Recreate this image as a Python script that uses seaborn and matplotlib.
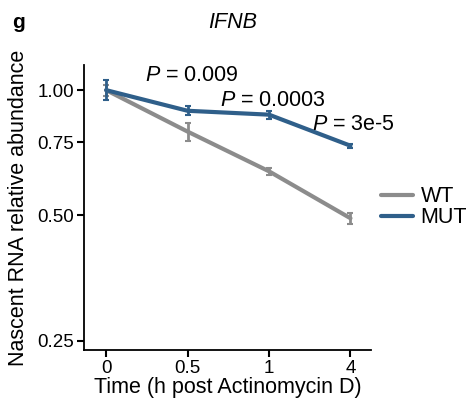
import matplotlib
matplotlib.use("Agg")
import matplotlib.pyplot as plt
import seaborn as sns
import pandas as pd
import numpy as np
from matplotlib.lines import Line2D

times = ["0", "0.5", "1", "4"]
wt_mean = [1.00, 0.795, 0.638, 0.492]
wt_err = [0.03, 0.04, 0.012, 0.015]
mut_mean = [1.00, 0.892, 0.873, 0.735]
mut_err = [0.055, 0.022, 0.02, 0.008]
groups = ["WT", "MUT"]
colors = {"WT": "#8c8c8c", "MUT": "#2f5f8a"}
pvals = ["0.009", "0.0003", "3e-5"]
yticks = [0.25, 0.50, 0.75, 1.00]

sns.set_style("ticks")
plt.rcParams["font.family"] = ["Liberation Sans", "DejaVu Sans"]
plt.rcParams["mathtext.fontset"] = "custom"
plt.rcParams["mathtext.it"] = "Liberation Sans:italic"
plt.rcParams["mathtext.rm"] = "Liberation Sans"
for k in ["text.color", "axes.labelcolor", "xtick.color", "ytick.color",
          "xtick.labelcolor", "ytick.labelcolor"]:
    plt.rcParams[k] = "black"

rows = []
for g, m, e in [("WT", wt_mean, wt_err), ("MUT", mut_mean, mut_err)]:
    for i, t in enumerate(times):
        rows.append({"pos": i, "time": t, "value": m[i], "err": e[i], "group": g})
df = pd.DataFrame(rows)

fig = plt.figure(figsize=(4.7, 4.03), dpi=100)
ax = fig.add_axes([0.179, 0.131, 0.61, 0.708])

sns.lineplot(data=df, x="pos", y="value", hue="group", palette=colors,
             hue_order=groups, linewidth=3, ax=ax, legend=False)
for g in groups:
    sub = df[df.group == g]
    ax.errorbar(sub["pos"], sub["value"], yerr=sub["err"], fmt="none",
                ecolor=colors[g], elinewidth=2, capsize=2, capthick=1.5)

ax.set_yscale("log")
ax.set_ylim(0.237, 1.15)
ax.set_xlim(-0.27, 3.25)
ax.set_yticks(yticks)
ax.set_yticklabels([f"{v:.2f}" for v in yticks])
ax.minorticks_off()
ax.set_xticks(range(len(times)))
ax.set_xticklabels(times)
ax.tick_params(labelsize=13.5, width=1.5, length=5, color="black",
               labelcolor="black", pad=2)
ax.set_xlabel("Time (h post Actinomycin D)", fontsize=15.5, labelpad=0, color="black")
ax.set_ylabel("Nascent RNA relative abundance", fontsize=15.5, labelpad=6, color="black")
sns.despine(ax=ax)
for s in ["left", "bottom"]:
    ax.spines[s].set_linewidth(1.3)
    ax.spines[s].set_color("black")

# P-value annotations
ppos = [(0.477, 1.085), (1.395, 0.945), (2.53, 0.825)]
for (x, y), p in zip(ppos, pvals):
    ax.text(x, y, r"$\it{P}$" + " = " + p, fontsize=15.5, ha="left", va="center",
            color="black")

# legend
handles = [Line2D([0], [0], color=colors[g], lw=3) for g in groups]
fig.legend(handles, groups, loc="upper left", bbox_to_anchor=(0.81, 0.538),
           frameon=False, fontsize=15.5, handlelength=1.5, handletextpad=0.35,
           labelspacing=0.0, borderaxespad=0, borderpad=0, labelcolor="black")

fig.text(0.025, 0.945, "g", fontsize=15, fontweight="bold", ha="left", va="center",
         color="black")
fig.text(0.496, 0.945, "IFNB", fontsize=15.5, style="italic", ha="center", va="center",
         color="black")

fig.savefig("out.png", dpi=100)
